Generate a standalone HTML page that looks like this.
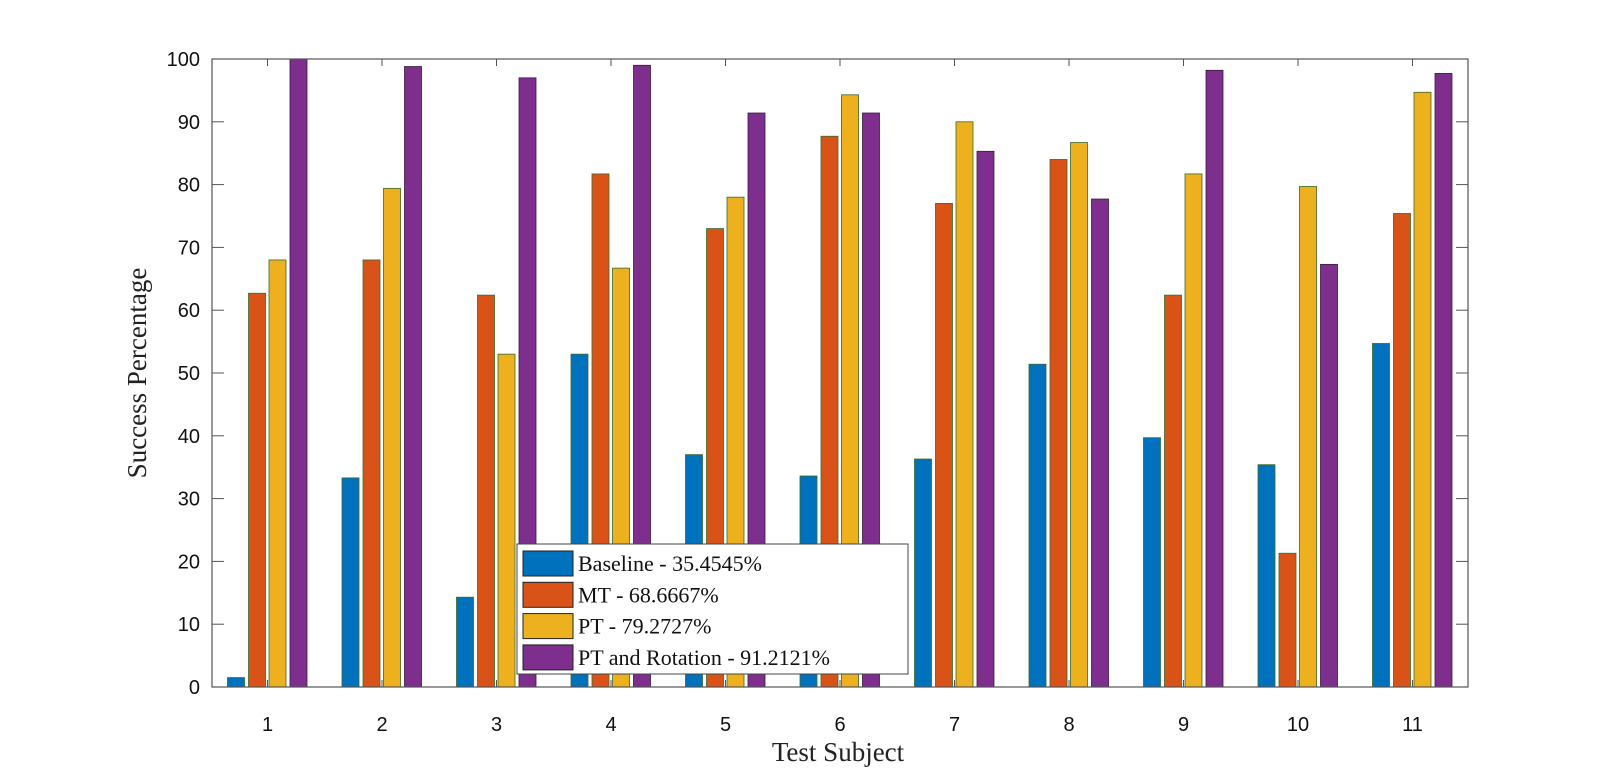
<!DOCTYPE html>
<html><head><meta charset="utf-8"><style>
body{margin:0;background:#fff;width:1623px;height:774px;overflow:hidden}
text{font-family:"Liberation Sans",sans-serif}
.serif{font-family:"Liberation Serif",serif}
</style></head><body>
<svg id="chart" width="1623" height="774" xmlns="http://www.w3.org/2000/svg"></svg>
<script>
const categories=["1","2","3","4","5","6","7","8","9","10","11"];
const baseline=[1.5,33.3,14.3,53,37,33.6,36.3,51.4,39.7,35.4,54.7];
const mt=[62.7,68,62.4,81.7,73,87.7,77,84,62.4,21.3,75.4];
const pt=[68,79.4,53,66.7,78,94.3,90,86.7,81.7,79.7,94.7];
const ptr=[100,98.8,97,99,91.4,91.4,85.3,77.7,98.2,67.3,97.7];
const yTicks=[0,10,20,30,40,50,60,70,80,90,100];
const seriesNames=["Baseline - 35.4545%","MT - 68.6667%","PT - 79.2727%","PT and Rotation - 91.2121%"];
const seriesKeys=["baseline","mt","pt","ptr"];

const svg=document.getElementById('chart');
const NS="http://www.w3.org/2000/svg";
const L=212,R=1468,T=59,B=687;
const x=i=>267.5+i*114.5;
const y=v=>B-(v/100)*(B-T);
function mk(tag,attrs,parent){const e=document.createElementNS(NS,tag);for(const k in attrs)e.setAttribute(k,attrs[k]);(parent||svg).appendChild(e);return e;}
const colors=["#0072bd","#d95319","#edb120","#7e2f8e"];
const series=[baseline,mt,pt,ptr];
const offs=[-31.5,-10.5,10,31];
const bw=17;
series.forEach((s,si)=>{
  s.forEach((v,i)=>{
    const r=mk('rect',{x:x(i)+offs[si]-bw/2,y:y(v),width:bw,height:B-y(v),fill:colors[si],stroke:si==3?"#3a1a40":"#3a6a2a","stroke-width":0.8});
    
    
  });
});
// axes box
const box=mk('rect',{x:L,y:T,width:R-L,height:B-T,fill:"none",stroke:"#555","stroke-width":1.2});


yTicks.forEach(t=>{
  mk('line',{x1:L,x2:L+12,y1:y(t),y2:y(t),stroke:"#555"});
  mk('line',{x1:R,x2:R-12,y1:y(t),y2:y(t),stroke:"#555"});
  const tx=mk('text',{x:200,y:y(t)+7,"text-anchor":"end","font-size":20,fill:"#111"});
  tx.textContent=t;
  
  
});
categories.forEach((c,i)=>{
  mk('line',{x1:x(i),x2:x(i),y1:B,y2:B-7,stroke:"#555"});
  mk('line',{x1:x(i),x2:x(i),y1:T,y2:T+7,stroke:"#555"});
  const tx=mk('text',{x:x(i),y:731,"text-anchor":"middle","font-size":20,fill:"#111"});
  tx.textContent=c;
  
  
});
const xt=mk('text',{x:838,y:761,"text-anchor":"middle","font-size":27,fill:"#222",class:"serif"});
xt.textContent="Test Subject";


const yt=mk('text',{x:0,y:0,"text-anchor":"middle","font-size":27,fill:"#222",class:"serif",transform:"translate(146,373) rotate(-90)"});
yt.textContent="Success Percentage";


// legend
const lg=mk('g',{});


mk('rect',{x:517,y:544,width:391,height:130,fill:"#fff",stroke:"#444","stroke-width":1},lg);
seriesNames.forEach((n,i)=>{
  const cy=563+i*31.3;
  const sw=mk('rect',{x:523,y:cy-12,width:50,height:25,fill:colors[i],stroke:"#222","stroke-width":1},lg);
  
  
  const t=mk('text',{x:578,y:cy+8,"font-size":22,fill:"#111",class:"serif"},lg);
  t.textContent=n;
  
  
});
</script>
</body></html>
